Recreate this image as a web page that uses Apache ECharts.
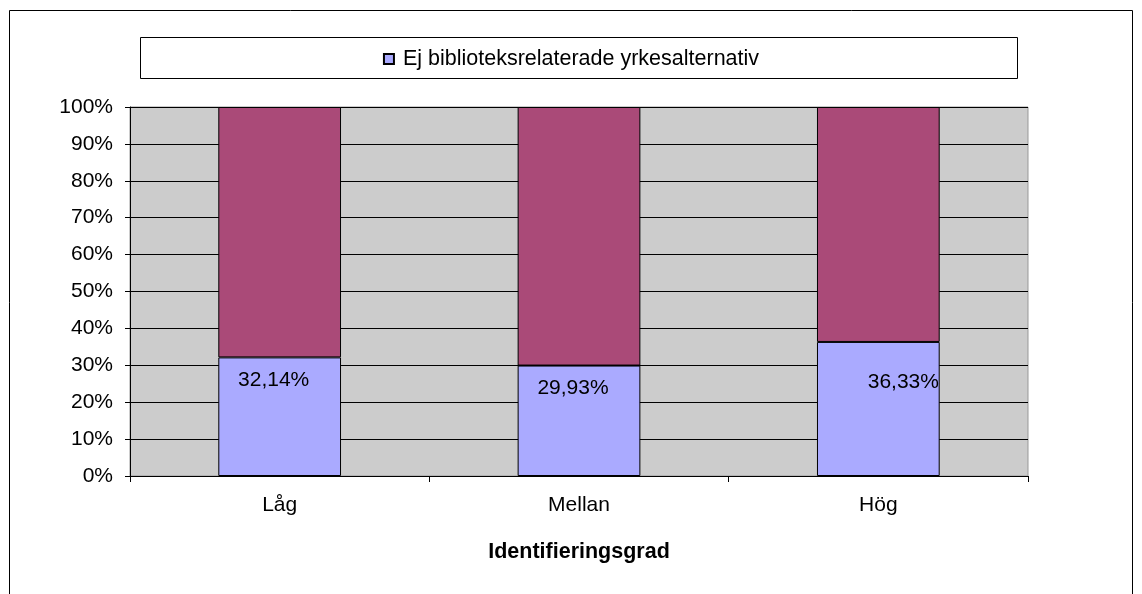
<!DOCTYPE html>
<html>
<head>
<meta charset="utf-8">
<script src="https://cdn.jsdelivr.net/npm/echarts@6/dist/echarts.min.js"></script>
<style>
html,body{margin:0;padding:0;background:#fff;}
#chart{width:1142px;height:594px;}
</style>
</head>
<body>
<div id="chart"></div>
<script>
var categories = ['Låg', 'Mellan', 'Hög'];
var ejBibliotek = [32.14, 29.93, 36.33];
var bibliotek = [67.86, 70.07, 63.67];
var yTicks = [0, 10, 20, 30, 40, 50, 60, 70, 80, 90, 100];
var seriesNames = ['Ej biblioteksrelaterade yrkesalternativ', 'Biblioteksrelaterade yrkesalternativ'];
var axisName = 'Identifieringsgrad';

var FONT = '"Liberation Sans", Arial, sans-serif';
var chart = echarts.init(document.getElementById('chart'));
chart.setOption({
  animation: false,
  backgroundColor: '#ffffff',
  textStyle: { fontFamily: FONT, color: '#000' },
  graphic: [
    { type: 'rect', shape: { x: 9.5, y: 10.5, width: 1123, height: 620 }, style: { fill: 'none', stroke: '#000', lineWidth: 1 }, silent: true, z: -10 },
    { type: 'rect', shape: { x: 140.5, y: 37.5, width: 877, height: 41 }, style: { fill: '#fff', stroke: '#000', lineWidth: 1 }, silent: true, z: -5 }
  ],
  legend: {
    data: [seriesNames[0]],
    top: 43,
    left: 'center',
    icon: 'rect',
    itemWidth: 10,
    itemHeight: 10,
    itemGap: 4,
    textStyle: { fontFamily: FONT, fontSize: 21.5, color: '#000', padding: [0, 0, 0, 4] }
  },
  grid: {
    left: 130, right: 114, top: 107, bottom: 118,
    show: true, backgroundColor: '#CCCCCC', borderColor: '#999', borderWidth: 1
  },
  xAxis: {
    type: 'category',
    data: categories,
    axisLine: { lineStyle: { color: '#000', width: 1 } },
    axisTick: { show: true, length: 6, interval: 0, lineStyle: { color: '#000' } },
    axisLabel: { fontSize: 21, color: '#000', margin: 19, fontFamily: FONT },
    name: axisName,
    nameLocation: 'middle',
    nameGap: 65,
    nameTextStyle: { fontSize: 21.5, fontWeight: 'bold', color: '#000', fontFamily: FONT }
  },
  yAxis: {
    type: 'value',
    min: yTicks[0], max: yTicks[yTicks.length - 1], interval: 10,
    axisLine: { show: true, lineStyle: { color: '#000', width: 1 } },
    axisTick: { show: true, length: 5, lineStyle: { color: '#000' } },
    axisLabel: { fontSize: 21, color: '#000', margin: 17, fontFamily: FONT, formatter: '{value}%' },
    splitLine: { show: true, lineStyle: { color: '#000', width: 1 } }
  },
  series: [
    {
      name: seriesNames[0],
      type: 'bar',
      stack: 'total',
      barWidth: '41%',
      data: ejBibliotek.map(function (v, i) {
        return i === 2 ? { value: v, label: { offset: [25, 18] } } : v;
      }),
      itemStyle: { color: '#AAAAFF', borderColor: '#000', borderWidth: 1 },
      label: {
        show: true,
        position: 'insideTop',
        distance: 12,
        offset: [-6, 0],
        fontSize: 21,
        color: '#000',
        fontFamily: FONT,
        formatter: function (p) { return p.value.toFixed(2).replace('.', ',') + '%'; }
      }
    },
    {
      name: seriesNames[1],
      type: 'bar',
      stack: 'total',
      barWidth: '41%',
      data: bibliotek,
      itemStyle: { color: '#AA4A78', borderColor: '#000', borderWidth: 1 }
    }
  ]
});
</script>
</body>
</html>
